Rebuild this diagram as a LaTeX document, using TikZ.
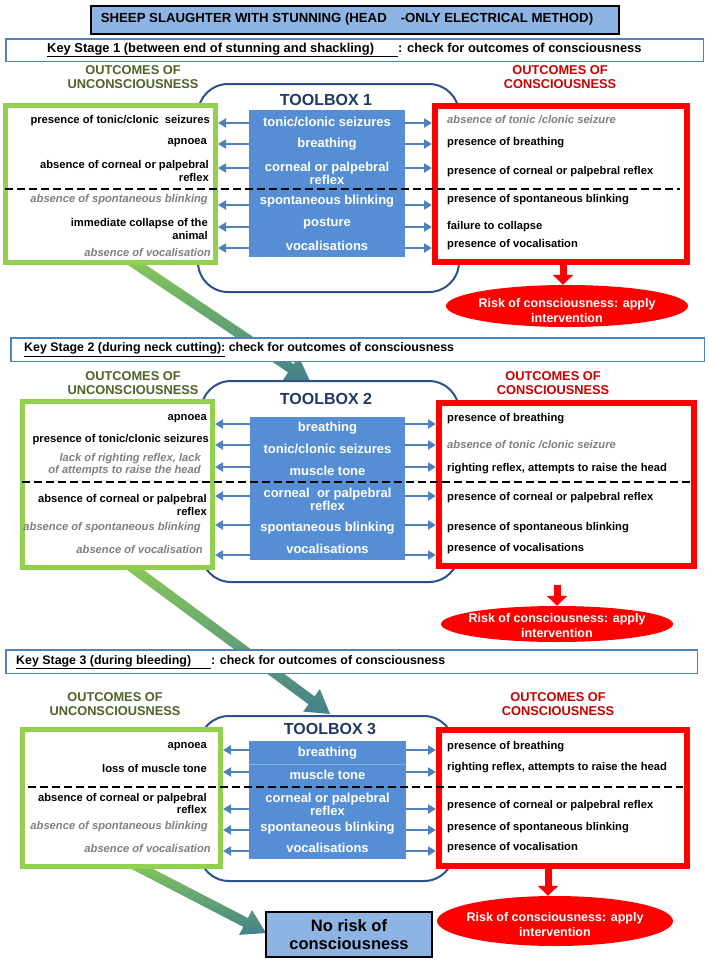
\documentclass[tikz,border=0pt]{standalone}
\usepackage{fontspec}
\setmainfont{Liberation Sans}
\usetikzlibrary{calc,arrows.meta,shapes.geometric}
\definecolor{gborder}{RGB}{146,208,80}
\definecolor{rborder}{RGB}{255,0,0}
\definecolor{bfill}{RGB}{85,142,213}
\definecolor{barrow}{RGB}{79,129,189}
\definecolor{tbline}{RGB}{44,82,140}
\definecolor{tbtext}{RGB}{31,56,100}
\definecolor{ghead}{RGB}{79,98,40}
\definecolor{rhead}{RGB}{200,0,0}
\definecolor{ksline}{RGB}{79,129,189}
\definecolor{lblue}{RGB}{141,180,226}
\definecolor{graytxt}{RGB}{128,128,128}
\definecolor{arrA}{RGB}{140,205,85}
\definecolor{arrB}{RGB}{68,128,138}
\newcommand{\fsz}[2]{\fontsize{#1}{#2}\selectfont}
\newcommand{\grnarrow}[2]{%
  \coordinate (gab) at ($(#2)!23pt!(#1)$);
  \shade[garrow] ($(#1)!5pt!90:(#2)$) -- ($(gab)!5pt!90:(#2)$) -- ($(gab)!14pt!90:(#2)$) -- (#2)
     -- ($(gab)!14pt!-90:(#2)$) -- ($(gab)!5pt!-90:(#2)$) -- ($(#1)!5pt!-90:(#2)$) -- cycle;
}
\tikzset{
  titlebox/.style={draw=black, line width=2pt, fill=lblue, inner sep=0pt},
  ksbox/.style={draw=ksline, line width=1.5pt, fill=white, inner sep=0pt},
  kstext/.style={anchor=west, inner sep=0pt, font=\fsz{12.4}{14}\bfseries},
  gbox/.style={draw=gborder, line width=5pt, fill=white, inner sep=0pt},
  rbox/.style={draw=rborder, line width=6pt, fill=white, inner sep=0pt},
  tbox/.style={draw=tbline, line width=2pt, rounded corners=30pt, inner sep=0pt},
  bbox/.style={fill=bfill, inner sep=0pt},
  tbtitle/.style={text=tbtext, font=\fsz{16}{18}\bfseries, inner sep=0pt},
  ghd/.style={text=ghead, font=\fsz{12.8}{14}\bfseries, align=center, inner sep=0pt},
  rhd/.style={text=rhead, font=\fsz{12.8}{14}\bfseries, align=center, inner sep=0pt},
  lt/.style={anchor=east, align=right, inner sep=0pt, font=\fsz{11.2}{12.5}\bfseries},
  rt/.style={anchor=west, align=left, inner sep=0pt, font=\fsz{11.2}{12.5}\bfseries},
  dim/.style={text=graytxt, font=\fsz{11.2}{12.5}\bfseries\itshape},
  blab/.style={text=white, align=center, inner sep=0pt, font=\fsz{13}{13}\bfseries},
  barr/.style={draw=barrow, line width=2.3pt, -{Triangle[length=8pt,width=9pt]}},
  rarr/.style={draw=rborder, line width=7pt, -{Triangle[length=10pt,width=20pt]}},
  risk/.style={ellipse, fill=rborder, inner sep=0pt},
  risktext/.style={text=white, align=center, inner sep=0pt, font=\fsz{12.5}{15}\bfseries},
  dline/.style={draw=black, line width=2.5pt, dash pattern=on 8pt off 4pt},
  nrbox/.style={draw=black, line width=2pt, fill=lblue, inner sep=0pt, align=center, font=\fsz{16.5}{18}\bfseries},
  garrow/.style={top color=arrA, bottom color=arrB, draw=none},
}
\begin{document}
\begin{tikzpicture}[x=1pt,y=-1pt]
\useasboundingbox (0,0) rectangle (709,962);
\fill[white] (0,0) rectangle (709,962);

% ---------- green flow arrows (behind everything)
\coordinate (a1t) at (122,255); \coordinate (a1p) at (310,381);
\grnarrow{a1t}{a1p}
\coordinate (a2t) at (122,560); \coordinate (a2p) at (330,714);
\grnarrow{a2t}{a2p}
\coordinate (a3t) at (125,860); \coordinate (a3p) at (266,933);
\grnarrow{a3t}{a3p}

% ---------- title and key stage bars
\node[titlebox, minimum width=528pt, minimum height=28pt] (title) at (355,19.5) {};
\node[inner sep=0pt, font=\fsz{13.2}{15}\bfseries] (titlet) at (347,19.5)
  {SHEEP SLAUGHTER WITH STUNNING (HEAD\hspace{14pt}-ONLY ELECTRICAL METHOD)};
\node[ksbox, minimum width=697.5pt, minimum height=22.5pt] (ks1) at (354.5,50) {};
\node[kstext, font=\fsz{12.9}{14}\bfseries] (ks1t) at (47,50) {\underline{Key Stage 1 (between end of stunning and shackling)\hspace{24pt}}: check for outcomes of consciousness};
\node[ksbox, minimum width=693.5pt, minimum height=23.5pt] (ks2) at (357.5,349.5) {};
\node[kstext] (ks2t) at (24,349.5) {\underline{Key Stage 2 (during neck cutting):} check for outcomes of consciousness};
\node[ksbox, minimum width=691.5pt, minimum height=23.5pt] (ks3) at (351.5,661.5) {};
\node[kstext] (ks3t) at (16,662) {\underline{Key Stage 3 (during bleeding)\hspace{20pt}}: check for outcomes of consciousness};

% ---------- headings
\node[ghd] (gh1) at (133,77) {OUTCOMES OF\\UNCONSCIOUSNESS};
\node[rhd] (rh1) at (560,77) {OUTCOMES OF\\CONSCIOUSNESS};
\node[ghd] (gh2) at (133,383.5) {OUTCOMES OF\\UNCONSCIOUSNESS};
\node[rhd] (rh2) at (553,383.5) {OUTCOMES OF\\CONSCIOUSNESS};
\node[ghd] (gh3) at (115,704) {OUTCOMES OF\\UNCONSCIOUSNESS};
\node[rhd] (rh3) at (558,704) {OUTCOMES OF\\CONSCIOUSNESS};

% ---------- toolbox outlines
\node[tbox, minimum width=261pt, minimum height=208pt] (tb1) at (328.5,188) {};
\node[tbox, minimum width=258pt, minimum height=201pt] (tb2) at (330,481.5) {};
\node[tbox, minimum width=255pt, minimum height=165pt] (tb3) at (326.5,798.5) {};
\node[tbtitle] (tt1) at (326,100) {TOOLBOX 1};
\node[tbtitle] (tt2) at (326,399) {TOOLBOX 2};
\node[tbtitle] (tt3) at (330,729) {TOOLBOX 3};

% ---------- blue boxes
\node[bbox, minimum width=156pt, minimum height=147pt] (b1) at (327,183.5) {};
\node[bbox, minimum width=155pt, minimum height=143pt] (b2) at (327.5,488.5) {};
\node[bbox, minimum width=157pt, minimum height=118pt] (b3) at (327.5,800) {};
\coordinate (sepy) at (0,764);
\draw[bfill!70!white, line width=0.8pt] (b3.west |- sepy) -- (b3.east |- sepy);

% ---------- green and red boxes
\node[gbox, minimum width=210pt, minimum height=157pt] (g1) at (110.5,184) {};
\node[rbox, minimum width=252pt, minimum height=156pt] (r1) at (561,184) {};
\node[gbox, minimum width=190pt, minimum height=166pt] (g2) at (117.5,484.5) {};
\node[rbox, minimum width=255pt, minimum height=163pt] (r2) at (566.5,484.5) {};
\node[gbox, minimum width=198pt, minimum height=137pt] (g3) at (121.5,798) {};
\node[rbox, minimum width=248pt, minimum height=136pt] (r3) at (563,798) {};

% ---------- section 1 texts
\node[blab] (b1a) at (327,122) {tonic/clonic seizures};
\node[blab] (b1b) at (327,144) {breathing};
\node[blab] (b1c) at (327,173) {corneal or palpebral\\reflex};
\node[blab] (b1d) at (327,201) {spontaneous blinking};
\node[blab] (b1e) at (327,224) {posture};
\node[blab] (b1f) at (327,246) {vocalisations};

\node[lt] (l1a) at (210,121) {presence of tonic/clonic\ \ seizures};
\node[lt] (l1b) at (207,143) {apnoea};
\node[lt] (l1c) at (209,171) {absence of corneal or palpebral\\reflex};
\node[lt,dim] (l1d) at (208,200) {absence of spontaneous blinking};
\node[lt] (l1e) at (208,229) {immediate collapse of the\\animal};
\node[lt,dim] (l1f) at (211,252) {absence of vocalisation};

\node[rt,dim] (r1a) at (447,120) {absence of tonic /clonic seizure};
\node[rt] (r1b) at (447,143) {presence of breathing};
\node[rt] (r1c) at (447,172) {presence of corneal or palpebral reflex};
\node[rt] (r1d) at (447,200) {presence of spontaneous blinking};
\node[rt] (r1e) at (447,227) {failure to collapse};
\node[rt] (r1f) at (447,245) {presence of vocalisation};

% ---------- section 2 texts
\node[blab] (b2a) at (327.5,428) {breathing};
\node[blab] (b2b) at (327.5,449) {tonic/clonic seizures};
\node[blab] (b2c) at (327.5,471) {muscle tone};
\node[blab] (b2d) at (327.5,499.5) {corneal\ \ or palpebral\\reflex};
\node[blab] (b2e) at (327.5,528) {spontaneous blinking};
\node[blab] (b2f) at (327.5,549) {vocalisations};

\node[lt] (l2a) at (207,419) {apnoea};
\node[lt] (l2b) at (209,440) {presence of tonic/clonic seizures};
\node[lt,dim] (l2c) at (201,464.5) {lack of righting reflex, lack\\of attempts to raise the head};
\node[lt] (l2d) at (207,505) {absence of corneal or palpebral\\reflex};
\node[lt,dim] (l2e) at (201,528) {absence of spontaneous blinking};
\node[lt,dim] (l2f) at (203,549) {absence of vocalisation};

\node[rt] (r2a) at (447,419) {presence of breathing};
\node[rt,dim] (r2b) at (447,445) {absence of tonic /clonic seizure};
\node[rt] (r2c) at (447,469) {righting reflex, attempts to raise the head};
\node[rt] (r2d) at (447,498) {presence of corneal or palpebral reflex};
\node[rt] (r2e) at (447,528) {presence of spontaneous blinking};
\node[rt] (r2f) at (447,549) {presence of vocalisations};

% ---------- section 3 texts
\node[blab] (b3a) at (327.5,753) {breathing};
\node[blab] (b3b) at (327.5,775) {muscle tone};
\node[blab] (b3c) at (327.5,804) {corneal or palpebral\\reflex};
\node[blab] (b3d) at (327.5,828) {spontaneous blinking};
\node[blab] (b3e) at (327.5,848) {vocalisations};

\node[lt] (l3a) at (207,747) {apnoea};
\node[lt] (l3b) at (207,768) {loss of muscle tone};
\node[lt] (l3c) at (207,803.5) {absence of corneal or palpebral\\reflex};
\node[lt,dim] (l3d) at (208,827) {absence of spontaneous blinking};
\node[lt,dim] (l3e) at (211,848) {absence of vocalisation};

\node[rt] (r3a) at (447,747) {presence of breathing};
\node[rt] (r3b) at (447,768) {righting reflex, attempts to raise the head};
\node[rt] (r3c) at (447,806) {presence of corneal or palpebral reflex};
\node[rt] (r3d) at (447,828) {presence of spontaneous blinking};
\node[rt] (r3e) at (447,848) {presence of vocalisation};

% ---------- blue connectors
\foreach \yy in {123,144,168,205,227,248} {
  \coordinate (yy) at (0,\yy);
  \draw[barr] (b1.west |- yy) -- (g1.east |- yy);
  \draw[barr] (b1.east |- yy) -- (r1.west |- yy);
}
\foreach \yy in {424,445,467,496,525,555} {
  \coordinate (yy) at (0,\yy);
  \draw[barr] (b2.west |- yy) -- (g2.east |- yy);
  \draw[barr] (b2.east |- yy) -- (r2.west |- yy);
}
\foreach \yy in {750,772,809,830,851} {
  \coordinate (yy) at (0,\yy);
  \draw[barr] (b3.west |- yy) -- (g3.east |- yy);
  \draw[barr] (b3.east |- yy) -- (r3.west |- yy);
}

% ---------- risk ellipses and red arrows
\node[risk, minimum width=242pt, minimum height=42pt] (e1) at (567,306) {};
\node[risktext] (e1t) at (567,311) {Risk of consciousness: apply\\intervention};
\node[risk, minimum width=232pt, minimum height=36pt] (e2) at (557,624) {};
\node[risktext] (e2t) at (557,626) {Risk of consciousness: apply\\intervention};
\node[risk, minimum width=236pt, minimum height=50pt] (e3) at (555,921) {};
\node[risktext] (e3t) at (555,924.5) {Risk of consciousness: apply\\intervention};

\coordinate (rx1) at (563,0);
\draw[rarr] (r1.south -| rx1) -- (e1.north -| rx1);
\coordinate (r2s) at (557,585);
\draw[rarr] (r2s) -- (e2.north -| r2s);
\coordinate (rx3) at (548,0);
\draw[rarr] (r3.south -| rx3) -- (e3.north -| rx3);

% ---------- no risk box
\node[nrbox, minimum width=166pt, minimum height=45pt] (nr) at (349,934.5) {No risk of\\consciousness};

% ---------- dashed separators
\coordinate (d1a) at (5,189);   \coordinate (d1b) at (680,189);
\coordinate (d2a) at (22,482);  \coordinate (d2b) at (692,482);
\coordinate (d3a) at (28,787);  \coordinate (d3b) at (683,787);
\draw[dline] (d1a) -- (d1b);
\draw[dline] (d2a) -- (d2b);
\draw[dline] (d3a) -- (d3b);
\end{tikzpicture}
\end{document}
